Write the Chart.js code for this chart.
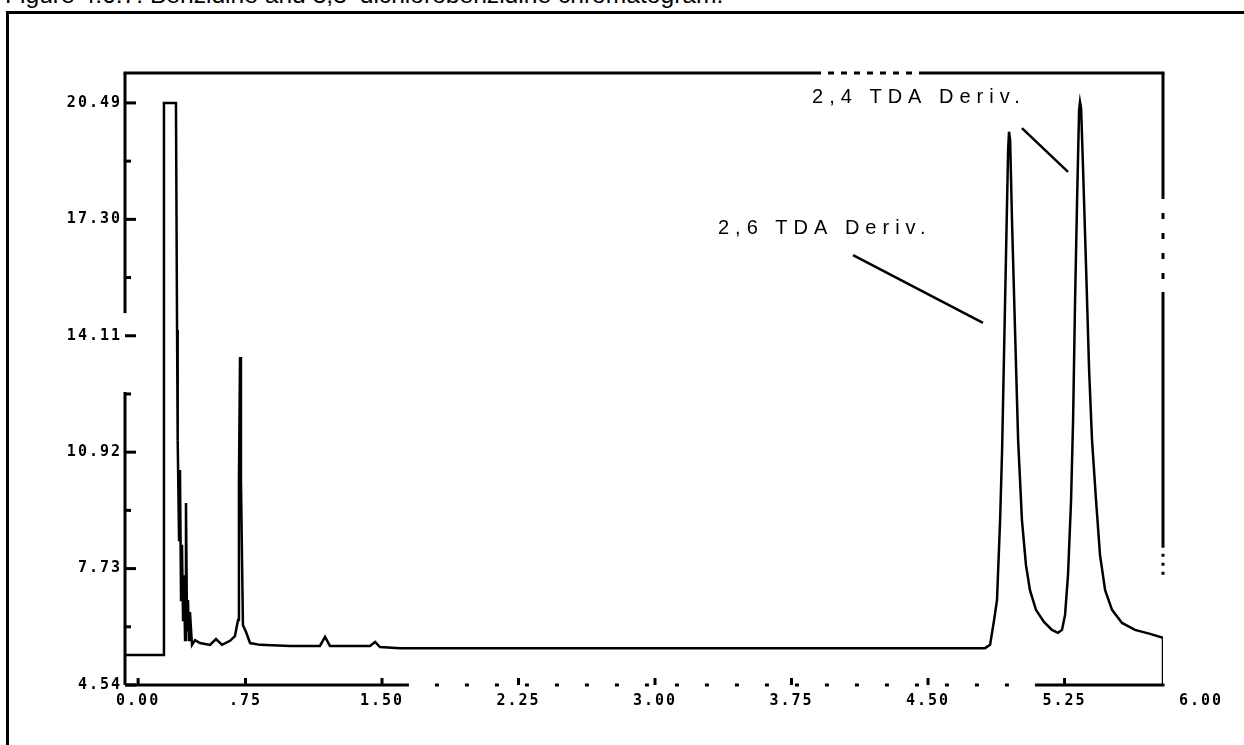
<!DOCTYPE html>
<html>
<head>
<meta charset="utf-8">
<title>Benzidine and 3,3'-dichlorobenzidine chromatogram</title>
<script src="https://cdn.jsdelivr.net/npm/chart.js@4.4.1/dist/chart.umd.min.js"></script>
<style>
  html, body { margin: 0; padding: 0; background: #fff; }
  body { width: 1244px; height: 745px; position: relative; overflow: hidden; font-family: Arial, "Liberation Sans", sans-serif; }
  #caption { position: absolute; left: 5px; top: -19px; font-size: 24.6px; line-height: 28px; color: #000; white-space: nowrap; }
  #frame { position: absolute; left: 6px; top: 11px; width: 1250px; height: 760px; border-left: 3px solid #000; border-top: 3px solid #000; pointer-events: none; }
  #wrap { position: absolute; left: 0; top: 0; width: 1244px; height: 745px; }
</style>
</head>
<body>
<div id="caption">Figure 4.6.7: Benzidine and 3,3'-dichlorobenzidine chromatogram.</div>
<div id="wrap"><canvas id="chromChart"></canvas></div>
<div id="frame"></div>

<script>
// ─── Data ──────────────────────────────────────────────────────────────────────
const retentionTime = [
  0.088, 0.297, 0.302, 0.368, 0.374, 0.376, 0.379, 0.385, 0.390, 0.396,
  0.401, 0.407, 0.412, 0.418, 0.423, 0.429, 0.434, 0.440, 0.445, 0.456,
  0.473, 0.500, 0.555, 0.588, 0.621, 0.665, 0.692, 0.709, 0.714, 0.720,
  0.725, 0.736, 0.753, 0.775, 0.830, 0.995, 1.159, 1.187, 1.214, 1.434,
  1.462, 1.489, 1.599, 4.813, 4.841, 4.863, 4.879, 4.896, 4.907, 4.918,
  4.929, 4.940, 4.945, 4.951, 4.962, 4.978, 4.995, 5.016, 5.038, 5.060,
  5.093, 5.137, 5.181, 5.214, 5.236, 5.253, 5.269, 5.286, 5.297, 5.308,
  5.319, 5.330, 5.335, 5.341, 5.352, 5.368, 5.385, 5.401, 5.423, 5.445,
  5.473, 5.511, 5.566, 5.637, 5.720, 5.791, 5.791
];
const response = [
  5.36, 5.36, 20.49, 20.49, 14.27, 12.35, 11.25, 8.51, 10.43, 6.87,
  8.38, 6.32, 7.55, 5.77, 9.53, 6.05, 6.87, 5.77, 6.54, 5.64,
  5.77, 5.69, 5.64, 5.80, 5.64, 5.75, 5.88, 6.32, 10.16, 13.53,
  10.16, 6.18, 5.99, 5.69, 5.64, 5.61, 5.61, 5.86, 5.61, 5.61,
  5.72, 5.58, 5.55, 5.55, 5.64, 6.32, 6.87, 9.06, 10.98, 13.72,
  16.46, 19.20, 19.70, 19.48, 17.15, 14.27, 11.25, 9.06, 7.83, 7.14,
  6.60, 6.27, 6.05, 5.97, 6.05, 6.46, 7.55, 9.61, 11.80, 15.09,
  17.83, 20.30, 20.52, 20.35, 18.65, 16.05, 13.17, 11.25, 9.61, 8.10,
  7.14, 6.60, 6.24, 6.05, 5.94, 5.83, 4.54
];

const xTickValues = [0.16, 0.75, 1.50, 2.25, 3.00, 3.75, 4.50, 5.25, 6.00];
const xTickLabels = ['0.00', '.75', '1.50', '2.25', '3.00', '3.75', '4.50', '5.25', '6.00'];
const yTickValues = [4.54, 7.73, 10.92, 14.11, 17.30, 20.49];
const yTickLabels = ['4.54', '7.73', '10.92', '14.11', '17.30', '20.49'];

// peak annotations (data units)
const peakNames = ['2,6 TDA Deriv.', '2,4 TDA Deriv.'];
const peakNameAt = [[3.346, 17.06], [3.863, 20.65]];
const leaderFrom = [[4.088, 16.32], [5.016, 19.80]];
const leaderTo = [[4.802, 14.46], [5.269, 18.60]];

// ─── Axis window ───────────────────────────────────────────────────────────────
const X_MIN = 0.088, X_MAX = 5.791;
const Y_MIN = 4.54, Y_MAX = 21.31;
const TICK_FONT = { family: '"DejaVu Sans Mono", monospace', size: 15, weight: 'bold' };

// ─── Frame / ticks / labels plugin ─────────────────────────────────────────────
const framePlugin = {
  id: 'frame',
  beforeDraw(chart) {
    chart.ctx.letterSpacing = '2px';
  },
  afterDraw(chart) {
    const { ctx, scales: { x, y } } = chart;
    const px = v => x.getPixelForValue(v);
    const py = v => y.getPixelForValue(v);

    ctx.save();
    ctx.letterSpacing = '0px';
    ctx.strokeStyle = '#000';
    ctx.fillStyle = '#000';

    const line = (x1, y1, x2, y2, w, dash) => {
      ctx.lineWidth = w;
      ctx.setLineDash(dash || []);
      ctx.beginPath();
      ctx.moveTo(x1, y1);
      ctx.lineTo(x2, y2);
      ctx.stroke();
    };

    // box (scan has broken stretches, mimic them)
    const L = px(X_MIN), R = px(X_MAX), T = py(Y_MAX), B = py(Y_MIN);
    line(L - 1.5, T, px(3.879), T, 3);
    line(px(3.879), T, px(4.456), T, 3, [6, 7]);
    line(px(4.456), T, R + 1.5, T, 3);

    line(L, T, L, py(14.73), 3);
    line(L, py(12.57), L, B, 3);

    line(R, T, R, py(18.02), 3);
    line(R, py(18.02), R, py(15.31), 3, [6, 14]);
    line(R, py(15.31), R, py(8.38), 3);
    line(R, py(8.38), R, py(7.55), 3, [3, 6]);

    line(L, B, px(1.626), B, 3);
    line(px(1.626), B, px(5.088), B, 3, [4, 26]);
    line(px(5.088), B, R + 1.5, B, 3);

    // y ticks: major + midway minor, pointing inward
    yTickValues.forEach((v, i) => {
      line(L, py(v), L + 11, py(v), 3);
      if (i < yTickValues.length - 1) {
        const m = (v + yTickValues[i + 1]) / 2;
        line(L, py(m), L + 6, py(m), 3);
      }
    });

    // x ticks pointing up
    xTickValues.forEach(v => {
      if (v > X_MIN && v < X_MAX) line(px(v), B, px(v), B - 7, 3);
    });

    // peak names + leader lines
    ctx.letterSpacing = '6px';
    ctx.font = '20px Arial, "Liberation Sans", sans-serif';
    ctx.textAlign = 'left';
    ctx.textBaseline = 'middle';
    peakNames.forEach((name, i) => {
      ctx.fillText(name, px(peakNameAt[i][0]), py(peakNameAt[i][1]));
      line(px(leaderFrom[i][0]), py(leaderFrom[i][1]), px(leaderTo[i][0]), py(leaderTo[i][1]), 2.5);
    });
    ctx.restore();
  }
};

// ─── Chart ─────────────────────────────────────────────────────────────────────
new Chart(document.getElementById('chromChart'), {
  type: 'line',
  data: {
    datasets: [{
      data: retentionTime.map((t, i) => ({ x: t, y: response[i] })),
      borderColor: '#000',
      borderWidth: 2.5,
      pointRadius: 0,
      tension: 0,
      fill: false
    }]
  },
  options: {
    responsive: true,
    maintainAspectRatio: false,
    animation: false,
    layout: { padding: { top: 73, right: 81, left: 0, bottom: 0 } },
    plugins: { legend: { display: false }, tooltip: { enabled: false } },
    scales: {
      x: {
        type: 'linear',
        min: X_MIN,
        max: X_MAX,
        grid: { display: false, drawTicks: false },
        border: { display: false },
        afterBuildTicks: s => { s.ticks = xTickValues.map(v => ({ value: v })); },
        afterFit: s => { s.height = 60; s.paddingLeft = 0; s.paddingRight = 0; },
        ticks: {
          autoSkip: false,
          maxRotation: 0,
          padding: 7,
          color: '#000',
          font: TICK_FONT,
          callback: (v, i) => xTickLabels[i]
        }
      },
      y: {
        min: Y_MIN,
        max: Y_MAX,
        grid: { display: false, drawTicks: false },
        border: { display: false },
        afterBuildTicks: s => { s.ticks = yTickValues.map(v => ({ value: v })); },
        afterFit: s => { s.width = 125; s.paddingTop = 0; s.paddingBottom = 0; },
        ticks: {
          autoSkip: false,
          padding: 3,
          color: '#000',
          font: TICK_FONT,
          callback: (v, i) => yTickLabels[i]
        }
      }
    }
  },
  plugins: [framePlugin]
});
</script>
</body>
</html>
